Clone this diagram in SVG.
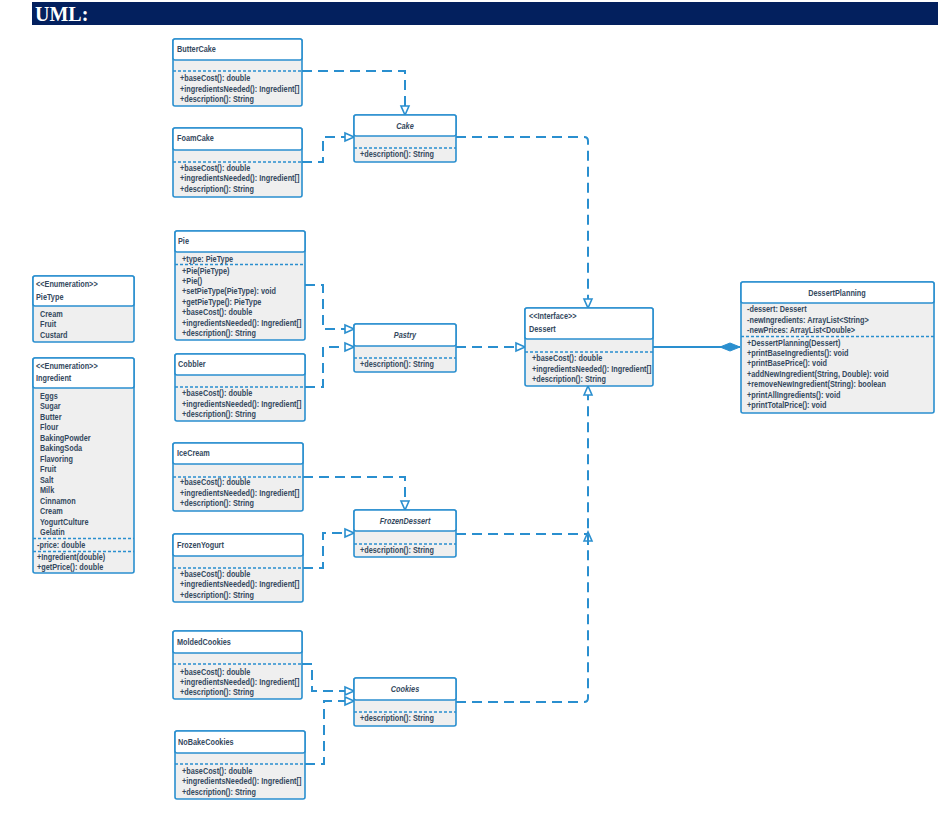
<svg xmlns="http://www.w3.org/2000/svg" width="950" height="814" viewBox="0 0 950 814">
<style>
.box{fill:#efefef;stroke:#2a8fcf;stroke-width:1.6}
.ttl{fill:#ffffff;stroke:#2a8fcf;stroke-width:1.6}
.dsep{stroke:#2a8fcf;stroke-width:1.3;stroke-dasharray:3 2;fill:none}
text{font-family:"Liberation Sans",Arial,sans-serif;font-weight:bold;font-size:8.8px;fill:#34495e}
.c{text-anchor:middle}
.it{font-style:italic}
.conn path{fill:none;stroke:#2a8fcf;stroke-width:2;stroke-dasharray:10 6}
.conn path.solid{stroke-dasharray:none}
</style>
<defs>
<marker id="tri" markerUnits="userSpaceOnUse" markerWidth="12" markerHeight="10" refX="9" refY="4" orient="auto" overflow="visible">
<path d="M0,0 L9,4 L0,8 Z" fill="#ffffff" stroke="#2a8fcf" stroke-width="1.6" stroke-dasharray="none"/>
</marker>
<marker id="dia" markerUnits="userSpaceOnUse" markerWidth="20" markerHeight="10" refX="20" refY="5" orient="auto" overflow="visible">
<path d="M0,5 L10,1 L20,5 L10,9 Z" fill="#2a8fcf" stroke="#2a8fcf" stroke-width="1" stroke-dasharray="none"/>
</marker>
</defs>
<rect width="950" height="814" fill="#ffffff"/>
<g id="header">
<rect x="32" y="2" width="906" height="23" fill="#03205e"/>
<text x="35" y="21" style="font-family:'Liberation Serif','Times New Roman',serif;font-size:20px;font-weight:bold;fill:#ffffff">UML:</text>
</g>

<g class="conn" id="connectors">
<path d="M302,71 H405 V115" marker-end="url(#tri)"/>
<path d="M302,162 H323 V137 H354" marker-end="url(#tri)"/>
<path d="M456,137 H584 Q588,137 588,141 V308" marker-end="url(#tri)"/>
<path d="M305,285 H323 V329 H354" marker-end="url(#tri)"/>
<path d="M305,387 H323 V347 H354" marker-end="url(#tri)"/>
<path d="M456,347 H525" marker-end="url(#tri)"/>
<path d="M303,477 H405 V510" marker-end="url(#tri)"/>
<path d="M303,568 H323 V533 H354" marker-end="url(#tri)"/>
<path d="M456,534 H588 M588,545 V532" marker-end="url(#tri)"/>
<path d="M302,664 H312 V691 H354" marker-end="url(#tri)"/>
<path d="M305,764 H324 V701 H354" marker-end="url(#tri)"/>
<path d="M456,702 H584 Q588,702 588,698 V386" marker-end="url(#tri)"/>
<path class="solid" d="M653,347 H740" marker-end="url(#dia)"/>
</g>

<g id="ButterCake">
<rect class="box" x="173" y="39" width="129" height="67" rx="2"/>
<rect class="ttl" x="173" y="39" width="129" height="21" rx="2"/>
<line class="dsep" x1="173" y1="71" x2="302" y2="71"/>
<g transform="translate(177 0) scale(0.83 1)"><text x="0" y="52">ButterCake</text></g>
<g transform="translate(180 0) scale(0.83 1)">
<text x="0" y="81">+baseCost(): double</text>
<text x="0" y="92">+ingredientsNeeded(): Ingredient[]</text>
<text x="0" y="102">+description(): String</text>
</g>
</g>

<g id="FoamCake">
<rect class="box" x="173" y="128" width="129" height="69" rx="2"/>
<rect class="ttl" x="173" y="128" width="129" height="22" rx="2"/>
<line class="dsep" x1="173" y1="162" x2="302" y2="162"/>
<g transform="translate(177 0) scale(0.83 1)"><text x="0" y="141">FoamCake</text></g>
<g transform="translate(180 0) scale(0.83 1)">
<text x="0" y="171">+baseCost(): double</text>
<text x="0" y="181">+ingredientsNeeded(): Ingredient[]</text>
<text x="0" y="192">+description(): String</text>
</g>
</g>

<g id="Cake">
<rect class="box" x="354" y="115" width="102" height="47" rx="2"/>
<rect class="ttl" x="354" y="115" width="102" height="21" rx="2"/>
<line class="dsep" x1="354" y1="148" x2="456" y2="148"/>
<g transform="translate(405 0) scale(0.83 1)"><text class="c it" x="0" y="129">Cake</text></g>
<g transform="translate(360 0) scale(0.83 1)"><text x="0" y="157">+description(): String</text></g>
</g>

<g id="Pie">
<rect class="box" x="175" y="231" width="130" height="109" rx="2"/>
<rect class="ttl" x="175" y="231" width="130" height="21" rx="2"/>
<line class="dsep" x1="175" y1="264.5" x2="305" y2="264.5"/>
<g transform="translate(178 0) scale(0.83 1)"><text x="0" y="244">Pie</text></g>
<g transform="translate(182 0) scale(0.83 1)">
<text x="0" y="262">+type: PieType</text>
<text x="0" y="274">+Pie(PieType)</text>
<text x="0" y="284">+Pie()</text>
<text x="0" y="294">+setPieType(PieType): void</text>
<text x="0" y="305">+getPieType(): PieType</text>
<text x="0" y="315">+baseCost(): double</text>
<text x="0" y="326">+ingredientsNeeded(): Ingredient[]</text>
<text x="0" y="336">+description(): String</text>
</g>
</g>

<g id="Cobbler">
<rect class="box" x="175" y="354" width="130" height="67" rx="2"/>
<rect class="ttl" x="175" y="354" width="130" height="21" rx="2"/>
<line class="dsep" x1="175" y1="387" x2="305" y2="387"/>
<g transform="translate(178 0) scale(0.83 1)"><text x="0" y="367">Cobbler</text></g>
<g transform="translate(182 0) scale(0.83 1)">
<text x="0" y="396">+baseCost(): double</text>
<text x="0" y="407">+ingredientsNeeded(): Ingredient[]</text>
<text x="0" y="417">+description(): String</text>
</g>
</g>

<g id="Pastry">
<rect class="box" x="354" y="324" width="102" height="48" rx="2"/>
<rect class="ttl" x="354" y="324" width="102" height="22" rx="2"/>
<line class="dsep" x1="354" y1="358" x2="456" y2="358"/>
<g transform="translate(405 0) scale(0.83 1)"><text class="c it" x="0" y="338">Pastry</text></g>
<g transform="translate(360 0) scale(0.83 1)"><text x="0" y="367">+description(): String</text></g>
</g>

<g id="PieType">
<rect class="box" x="33" y="276" width="101" height="66" rx="2"/>
<rect class="ttl" x="33" y="276" width="101" height="30" rx="2"/>
<g transform="translate(36 0) scale(0.83 1)">
<text x="0" y="287">&lt;&lt;Enumeration&gt;&gt;</text>
<text x="0" y="300">PieType</text>
</g>
<g transform="translate(40 0) scale(0.83 1)">
<text x="0" y="317">Cream</text>
<text x="0" y="327">Fruit</text>
<text x="0" y="338">Custard</text>
</g>
</g>

<g id="Ingredient">
<rect class="box" x="33" y="358" width="101" height="215" rx="2"/>
<rect class="ttl" x="33" y="358" width="101" height="30" rx="2"/>
<g transform="translate(36 0) scale(0.83 1)">
<text x="0" y="369">&lt;&lt;Enumeration&gt;&gt;</text>
<text x="0" y="381">Ingredient</text>
</g>
<g transform="translate(40 0) scale(0.83 1)">
<text x="0" y="399">Eggs</text>
<text x="0" y="409">Sugar</text>
<text x="0" y="420">Butter</text>
<text x="0" y="430">Flour</text>
<text x="0" y="441">BakingPowder</text>
<text x="0" y="451">BakingSoda</text>
<text x="0" y="462">Flavoring</text>
<text x="0" y="472">Fruit</text>
<text x="0" y="483">Salt</text>
<text x="0" y="493">Milk</text>
<text x="0" y="504">Cinnamon</text>
<text x="0" y="514">Cream</text>
<text x="0" y="525">YogurtCulture</text>
<text x="0" y="535">Gelatin</text>
</g>
<line class="dsep" x1="33" y1="538.5" x2="134" y2="538.5"/>
<line class="dsep" x1="33" y1="551.5" x2="134" y2="551.5"/>
<g transform="translate(37 0) scale(0.83 1)">
<text x="0" y="548">-price: double</text>
<text x="0" y="560">+Ingredient(double)</text>
<text x="0" y="570">+getPrice(): double</text>
</g>
</g>

<g id="Dessert">
<rect class="box" x="525" y="308" width="128" height="78" rx="2"/>
<rect class="ttl" x="525" y="308" width="128" height="31" rx="2"/>
<line class="dsep" x1="525" y1="352" x2="653" y2="352"/>
<g transform="translate(529 0) scale(0.83 1)">
<text x="0" y="319">&lt;&lt;Interface&gt;&gt;</text>
<text x="0" y="332">Dessert</text>
</g>
<g transform="translate(532 0) scale(0.83 1)">
<text x="0" y="361">+baseCost(): double</text>
<text x="0" y="372">+ingredientsNeeded(): Ingredient[]</text>
<text x="0" y="382">+description(): String</text>
</g>
</g>

<g id="DessertPlanning">
<rect class="box" x="741" y="282" width="193" height="131" rx="2"/>
<rect class="ttl" x="741" y="282" width="193" height="21" rx="2"/>
<line class="dsep" x1="741" y1="336.5" x2="934" y2="336.5"/>
<g transform="translate(837 0) scale(0.83 1)"><text class="c" x="0" y="296">DessertPlanning</text></g>
<g transform="translate(747 0) scale(0.83 1)">
<text x="0" y="312">-dessert: Dessert</text>
<text x="0" y="323">-newIngredients: ArrayList&lt;String&gt;</text>
<text x="0" y="333">-newPrices: ArrayList&lt;Double&gt;</text>
<text x="0" y="346">+DessertPlanning(Dessert)</text>
<text x="0" y="356">+printBaseIngredients(): void</text>
<text x="0" y="366">+printBasePrice(): void</text>
<text x="0" y="377">+addNewIngredient(String, Double): void</text>
<text x="0" y="387">+removeNewIngredient(String): boolean</text>
<text x="0" y="398">+printAllIngredients(): void</text>
<text x="0" y="408">+printTotalPrice(): void</text>
</g>
</g>

<g id="IceCream">
<rect class="box" x="173" y="443" width="130" height="68" rx="2"/>
<rect class="ttl" x="173" y="443" width="130" height="21" rx="2"/>
<line class="dsep" x1="173" y1="477" x2="303" y2="477"/>
<g transform="translate(177 0) scale(0.83 1)"><text x="0" y="456">IceCream</text></g>
<g transform="translate(180 0) scale(0.83 1)">
<text x="0" y="485">+baseCost(): double</text>
<text x="0" y="496">+ingredientsNeeded(): Ingredient[]</text>
<text x="0" y="506">+description(): String</text>
</g>
</g>

<g id="FrozenDessert">
<rect class="box" x="354" y="510" width="102" height="47" rx="2"/>
<rect class="ttl" x="354" y="510" width="102" height="21" rx="2"/>
<line class="dsep" x1="354" y1="544" x2="456" y2="544"/>
<g transform="translate(405 0) scale(0.83 1)"><text class="c it" x="0" y="524">FrozenDessert</text></g>
<g transform="translate(360 0) scale(0.83 1)"><text x="0" y="553">+description(): String</text></g>
</g>

<g id="FrozenYogurt">
<rect class="box" x="173" y="534" width="130" height="68" rx="2"/>
<rect class="ttl" x="173" y="534" width="130" height="22" rx="2"/>
<line class="dsep" x1="173" y1="568" x2="303" y2="568"/>
<g transform="translate(177 0) scale(0.83 1)"><text x="0" y="548">FrozenYogurt</text></g>
<g transform="translate(180 0) scale(0.83 1)">
<text x="0" y="577">+baseCost(): double</text>
<text x="0" y="587">+ingredientsNeeded(): Ingredient[]</text>
<text x="0" y="598">+description(): String</text>
</g>
</g>

<g id="MoldedCookies">
<rect class="box" x="173" y="631" width="129" height="68" rx="2"/>
<rect class="ttl" x="173" y="631" width="129" height="22" rx="2"/>
<line class="dsep" x1="173" y1="664" x2="302" y2="664"/>
<g transform="translate(177 0) scale(0.83 1)"><text x="0" y="645">MoldedCookies</text></g>
<g transform="translate(180 0) scale(0.83 1)">
<text x="0" y="675">+baseCost(): double</text>
<text x="0" y="685">+ingredientsNeeded(): Ingredient[]</text>
<text x="0" y="695">+description(): String</text>
</g>
</g>

<g id="Cookies">
<rect class="box" x="354" y="678" width="102" height="48" rx="2"/>
<rect class="ttl" x="354" y="678" width="102" height="22" rx="2"/>
<line class="dsep" x1="354" y1="712" x2="456" y2="712"/>
<g transform="translate(405 0) scale(0.83 1)"><text class="c it" x="0" y="692">Cookies</text></g>
<g transform="translate(360 0) scale(0.83 1)"><text x="0" y="721">+description(): String</text></g>
</g>

<g id="NoBakeCookies">
<rect class="box" x="175" y="731" width="130" height="68" rx="2"/>
<rect class="ttl" x="175" y="731" width="130" height="22" rx="2"/>
<line class="dsep" x1="175" y1="764" x2="305" y2="764"/>
<g transform="translate(178 0) scale(0.83 1)"><text x="0" y="745">NoBakeCookies</text></g>
<g transform="translate(182 0) scale(0.83 1)">
<text x="0" y="774">+baseCost(): double</text>
<text x="0" y="784">+ingredientsNeeded(): Ingredient[]</text>
<text x="0" y="795">+description(): String</text>
</g>
</g>
</svg>
